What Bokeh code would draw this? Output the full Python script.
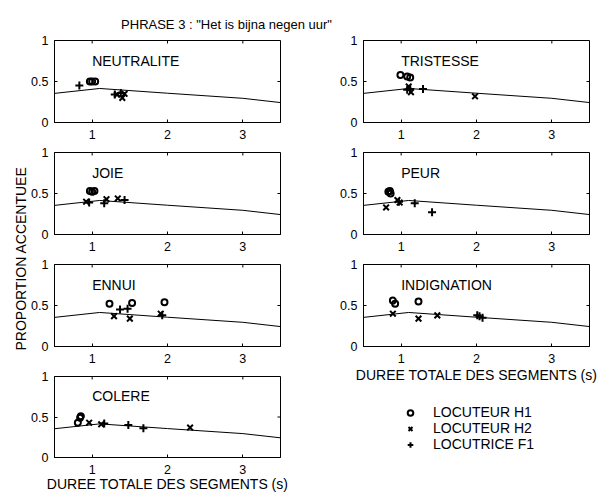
from math import pi
from bokeh.plotting import figure
from bokeh.layouts import column, row
from bokeh.models import Range1d, FixedTicker, Label, Legend, LegendItem
from bokeh.embed import file_html
from bokeh.resources import INLINE

FONT = "Liberation Sans"

TITLE = 'PHRASE 3 : "Het is bijna negen uur"'
Y_LABEL = "PROPORTION ACCENTUEE"
X_LABEL = "DUREE TOTALE DES SEGMENTS (s)"
SPEAKERS = ["LOCUTEUR H1", "LOCUTEUR H2", "LOCUTRICE F1"]

X_TICKS = [1, 2, 3]
X_TICK_LABELS = ["1", "2", "3"]
Y_TICKS = [0, 0.5, 1]
Y_TICK_LABELS = ["0", "0.5", "1"]
X_LIM = (0.5, 3.5)
Y_LIM = (0, 1)

# reference curve (same in every panel)
CURVE_X = [0.5, 1.1, 2.0, 3.0, 3.5]
CURVE_Y = [0.355, 0.415, 0.357, 0.295, 0.243]

# NEUTRALITE
neutralite_h1_x = [0.97, 1.00, 1.04]
neutralite_h1_y = [0.50, 0.50, 0.50]
neutralite_h2_x = [1.33, 1.40, 1.43]
neutralite_h2_y = [0.34, 0.30, 0.35]
neutralite_f1_x = [0.83, 1.30, 1.38]
neutralite_f1_y = [0.45, 0.34, 0.36]

# TRISTESSE
tristesse_h1_x = [0.99, 1.08, 1.12]
tristesse_h1_y = [0.58, 0.56, 0.55]
tristesse_h2_x = [1.10, 1.13, 1.98]
tristesse_h2_y = [0.44, 0.37, 0.32]
tristesse_f1_x = [1.08, 1.12, 1.29]
tristesse_f1_y = [0.40, 0.41, 0.41]

# JOIE
joie_h1_x = [0.97, 1.00, 1.03]
joie_h1_y = [0.53, 0.52, 0.53]
joie_h2_x = [0.92, 1.19, 1.34]
joie_h2_y = [0.40, 0.43, 0.44]
joie_f1_x = [0.96, 1.16, 1.43]
joie_f1_y = [0.39, 0.38, 0.42]

# PEUR
peur_h1_x = [0.83, 0.85, 0.86]
peur_h1_y = [0.52, 0.53, 0.50]
peur_h2_x = [0.80, 0.95, 0.98]
peur_h2_y = [0.33, 0.42, 0.39]
peur_f1_x = [0.97, 1.18, 1.41]
peur_f1_y = [0.40, 0.38, 0.27]

# ENNUI
ennui_h1_x = [1.23, 1.53, 1.96]
ennui_h1_y = [0.52, 0.53, 0.54]
ennui_h2_x = [1.29, 1.50, 1.91]
ennui_h2_y = [0.37, 0.34, 0.40]
ennui_f1_x = [1.37, 1.47, 1.93]
ennui_f1_y = [0.45, 0.46, 0.38]

# INDIGNATION
indignation_h1_x = [0.89, 0.92, 1.23]
indignation_h1_y = [0.56, 0.52, 0.55]
indignation_h2_x = [0.89, 1.23, 1.48]
indignation_h2_y = [0.40, 0.34, 0.38]
indignation_f1_x = [2.01, 2.04, 2.08]
indignation_f1_y = [0.38, 0.37, 0.35]

# COLERE
colere_h1_x = [0.81, 0.84, 0.85]
colere_h1_y = [0.43, 0.49, 0.51]
colere_h2_x = [0.96, 1.12, 2.30]
colere_h2_y = [0.43, 0.41, 0.37]
colere_f1_x = [1.16, 1.48, 1.68]
colere_f1_y = [0.42, 0.40, 0.36]

MARKERS = [
    dict(marker="circle", size=6, fill_color=None, line_color="black", line_width=2),
    dict(marker="x", size=8, line_color="black", line_width=2),
    dict(marker="cross", size=8, line_color="black", line_width=2),
]

FRAME_W = 226
FRAME_H = 82


def style_axis(ax, ticks, labels, standoff):
    ax.ticker = FixedTicker(ticks=ticks)
    ax.major_label_overrides = dict(zip(ticks, labels))
    ax.major_tick_in = 3
    ax.major_tick_out = 0
    ax.minor_tick_in = 0
    ax.minor_tick_out = 0
    ax.major_label_text_font = FONT
    ax.major_label_text_font_size = "12.5px"
    ax.major_label_text_color = "black"
    ax.axis_line_color = "black"
    ax.major_tick_line_color = "black"
    ax.major_label_standoff = standoff


def panel(name, series, bl, br, bt, bb, xlabel=False, label_standoff=0):
    p = figure(width=bl + FRAME_W + br, height=bt + FRAME_H + bb,
               x_range=Range1d(*X_LIM), y_range=Range1d(*Y_LIM),
               output_backend="svg", toolbar_location=None, tools="",
               min_border_left=bl, min_border_right=br,
               min_border_top=bt, min_border_bottom=bb)
    p.grid.visible = False
    p.outline_line_color = "black"
    p.outline_line_width = 1
    p.outline_line_alpha = 1
    p.background_fill_color = "white"
    p.border_fill_color = "white"
    style_axis(p.xaxis[0], X_TICKS, X_TICK_LABELS, 7)
    style_axis(p.yaxis[0], Y_TICKS, Y_TICK_LABELS, 6)
    if xlabel:
        p.xaxis.axis_label = X_LABEL
        p.xaxis.axis_label_text_font = FONT
        p.xaxis.axis_label_text_font_size = "14px"
        p.xaxis.axis_label_text_font_style = "normal"
        p.xaxis.axis_label_text_color = "black"
        p.xaxis.axis_label_standoff = label_standoff
    # mirrored inner ticks on top and right edges
    p.ray(x=X_TICKS, y=[Y_LIM[1]] * len(X_TICKS), length=3, length_units="screen",
          angle=-pi / 2, line_color="black", line_width=1)
    p.ray(x=[X_LIM[1]] * len(Y_TICKS), y=Y_TICKS, length=3, length_units="screen",
          angle=pi, line_color="black", line_width=1)
    p.line(CURVE_X, CURVE_Y, line_color="black", line_width=1)
    for (xs, ys), mk in zip(series, MARKERS):
        p.scatter(xs, ys, **mk)
    p.add_layout(Label(x=1.0, y=0.755, text=name, text_font=FONT, text_font_size="14px",
                       text_baseline="alphabetic", text_color="black"))
    return p


LB = dict(bl=26, br=48)   # left column: 300 px wide
RB = dict(bl=35, br=21)   # right column: 282 px wide

L1 = panel("NEUTRALITE", [(neutralite_h1_x, neutralite_h1_y), (neutralite_h2_x, neutralite_h2_y),
                          (neutralite_f1_x, neutralite_f1_y)], bt=8, bb=20, **LB)
L2 = panel("JOIE", [(joie_h1_x, joie_h1_y), (joie_h2_x, joie_h2_y),
                    (joie_f1_x, joie_f1_y)], bt=10, bb=20, **LB)
L3 = panel("ENNUI", [(ennui_h1_x, ennui_h1_y), (ennui_h2_x, ennui_h2_y),
                     (ennui_f1_x, ennui_f1_y)], bt=10, bb=20, **LB)
L4 = panel("COLERE", [(colere_h1_x, colere_h1_y), (colere_h2_x, colere_h2_y),
                      (colere_f1_x, colere_f1_y)], bt=10, bb=36, xlabel=True,
           label_standoff=-1, **LB)

R1 = panel("TRISTESSE", [(tristesse_h1_x, tristesse_h1_y), (tristesse_h2_x, tristesse_h2_y),
                         (tristesse_f1_x, tristesse_f1_y)], bt=8, bb=20, **RB)
R2 = panel("PEUR", [(peur_h1_x, peur_h1_y), (peur_h2_x, peur_h2_y),
                    (peur_f1_x, peur_f1_y)], bt=10, bb=20, **RB)
R3 = panel("INDIGNATION", [(indignation_h1_x, indignation_h1_y), (indignation_h2_x, indignation_h2_y),
                           (indignation_f1_x, indignation_f1_y)], bt=10, bb=40, xlabel=True,
           label_standoff=1, **RB)

# legend panel (glyphs of hidden renderers carry the marker styles)
LEG_W, LEG_H = 282, 100
leg = figure(width=LEG_W, height=LEG_H, x_range=Range1d(0, 1), y_range=Range1d(0, 1),
             x_axis_type=None, y_axis_type=None, output_backend="svg",
             toolbar_location=None, tools="", min_border=0)
leg.outline_line_color = None
leg.grid.visible = False
items = []
leg_series = [(colere_h1_x, colere_h1_y), (colere_h2_x, colere_h2_y), (colere_f1_x, colere_f1_y)]
for name, (xs, ys), mk in zip(SPEAKERS, leg_series, MARKERS):
    r = leg.scatter(xs, ys, visible=False, **mk)
    items.append(LegendItem(label=name, renderers=[r]))
legend = Legend(items=items, location=(40, 34), padding=0, spacing=0, margin=0,
                glyph_width=14, glyph_height=15, label_height=15, label_standoff=16,
                label_text_font=FONT, label_text_font_size="14px", label_text_color="black",
                border_line_color=None, background_fill_alpha=0,
                inactive_fill_alpha=0)
leg.add_layout(legend)

# y label strip
YL_W, YL_H = 28, 462
ylab = figure(width=YL_W, height=YL_H, x_range=Range1d(0, YL_W), y_range=Range1d(0, YL_H),
              x_axis_type=None, y_axis_type=None, output_backend="svg",
              toolbar_location=None, tools="", min_border=0)
ylab.outline_line_color = None
ylab.grid.visible = False
ylab.add_layout(Label(x=20.5, y=236, text=Y_LABEL, angle=pi / 2, text_align="center",
                      text_baseline="middle", text_font=FONT, text_font_size="14px",
                      text_color="black"))

# title strip
T_W, T_H = 610, 32
tfig = figure(width=T_W, height=T_H, x_range=Range1d(0, T_W), y_range=Range1d(0, T_H),
              x_axis_type=None, y_axis_type=None, output_backend="svg",
              toolbar_location=None, tools="", min_border=0)
tfig.outline_line_color = None
tfig.grid.visible = False
tfig.add_layout(Label(x=226, y=8.5, text=TITLE, text_align="center", text_baseline="middle",
                      text_font=FONT, text_font_size="13px", text_color="black"))

layout = column(tfig, row(ylab, column(L1, L2, L3, L4), column(R1, R2, R3, leg)))

open("out.html", "w").write(file_html(layout, INLINE))
